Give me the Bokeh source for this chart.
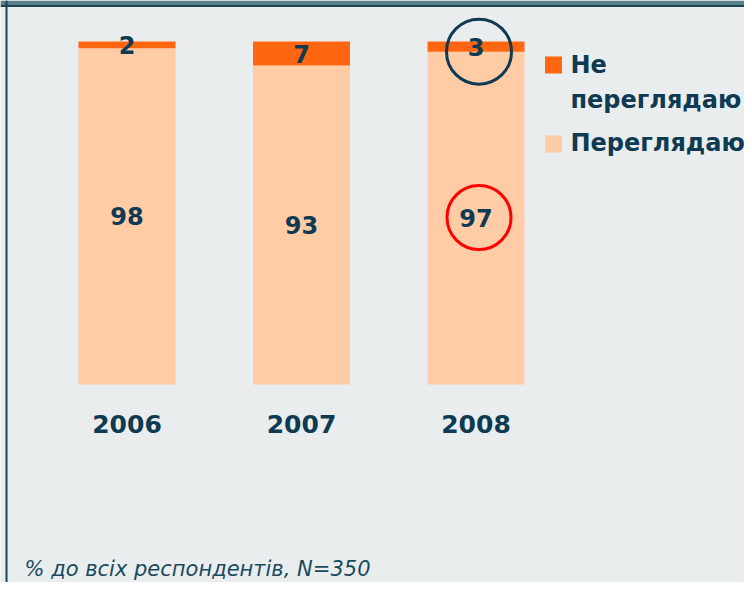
from bokeh.plotting import figure
from bokeh.models import ColumnDataSource, Range1d, Span, BoxAnnotation
from bokeh.core.properties import value
from bokeh.embed import file_html
from bokeh.resources import INLINE

# ---- data ----
years = ["2006", "2007", "2008"]
ne_pereglyadayu = [2, 7, 3]        # "Не переглядаю"
pereglyadayu = [98, 93, 97]        # "Переглядаю"
legend_labels = ["Не\nпереглядаю", "Переглядаю"]
footnote = "% до всіх респондентів, N=350"
highlight_year = "2008"

# ---- styles ----
BG = "#E9EDEE"
ORANGE = "#FF660F"
PEACH = "#FFCCA6"
NAVY = "#0E3A52"
RED = "#FF0000"
DARK = "#1A4557"
TEAL = "#5B808C"
FONT = value("DejaVu Sans")

W, H = 744, 582
# layout scale (page pixels)
K = 3.43       # px per percent
STEP = 174.5   # px between bars
X0, Y0 = 126.5, 384.0


def dx(px):
    return (px - X0) / STEP


def dy(py):
    return (Y0 - py) / K


xs = list(range(len(years)))
src = ColumnDataSource(dict(
    x=xs, year=years, pere=pereglyadayu, ne=ne_pereglyadayu,
    pere_mid=[v / 2 for v in pereglyadayu],
    ne_mid=[v + n / 2 for v, n in zip(pereglyadayu, ne_pereglyadayu)],
    pere_txt=[str(v) for v in pereglyadayu],
    ne_txt=[str(v) for v in ne_pereglyadayu],
))

p = figure(width=W, height=H,
           x_range=Range1d(dx(0), dx(W)), y_range=Range1d(dy(H), dy(0)),
           x_axis_type=None, y_axis_type=None,
           toolbar_location=None, output_backend="svg", min_border=0,
           background_fill_color=BG, border_fill_color=BG, outline_line_color=None)

# frame decoration
p.add_layout(BoxAnnotation(top=dy(0), bottom=dy(4.5), fill_color=TEAL, fill_alpha=1,
                           line_color=None))
p.add_layout(Span(location=dy(5.5), dimension="width", line_color=DARK, line_width=2))
p.add_layout(Span(location=dx(6), dimension="height", line_color=DARK, line_width=2))

p.vbar_stack(["pere", "ne"], x="x", width=97 / STEP, source=src,
             fill_color=[PEACH, ORANGE], line_color=None)

lbl = dict(text_font=FONT, text_font_style="bold", text_font_size="24px",
           text_color=NAVY, text_align="center", text_baseline="middle")
p.text(x="x", y="pere_mid", text="pere_txt", source=src, **lbl)
p.text(x="x", y="ne_mid", text="ne_txt", source=src, **lbl)

# year labels
p.text(x=xs, y=[dy(423.5)] * len(xs), text=years, text_font=FONT,
       text_font_style="bold", text_font_size="25px", text_color=NAVY,
       text_align="center", text_baseline="middle")

# highlight circles for 2008
hi = years.index(highlight_year)
ox = 3 / STEP
p.scatter(x=[hi + ox], y=[pereglyadayu[hi] + ne_pereglyadayu[hi] / 2 - 5 / K],
          marker="circle", size=65, fill_alpha=0, line_color=NAVY, line_width=3)
p.scatter(x=[hi + ox], y=[pereglyadayu[hi] / 2 + 0.2],
          marker="circle", size=64, fill_alpha=0, line_color=RED, line_width=3)

# legend (manual)
sq_y = [64.5, 143.5]
mid_y = [64, 142.5]
for lab, col, sy, my in zip(legend_labels, [ORANGE, PEACH], sq_y, mid_y):
    p.scatter(x=[dx(553)], y=[dy(sy)], marker="square", size=17,
              fill_color=col, line_color=None)
    for i, line in enumerate(lab.split("\n")):
        p.text(x=[dx(570)], y=[dy(my + 35 * i)], text=[line], text_font=FONT,
               text_font_style="bold", text_font_size="24px", text_color=NAVY,
               text_align="left", text_baseline="middle")

# footnote
p.text(x=[dx(24)], y=[dy(568)], text=[footnote], text_font=FONT,
       text_font_style="italic", text_font_size="21px", text_color="#1A4A60",
       text_align="left", text_baseline="middle")

open("out.html", "w").write(file_html(p, INLINE))
